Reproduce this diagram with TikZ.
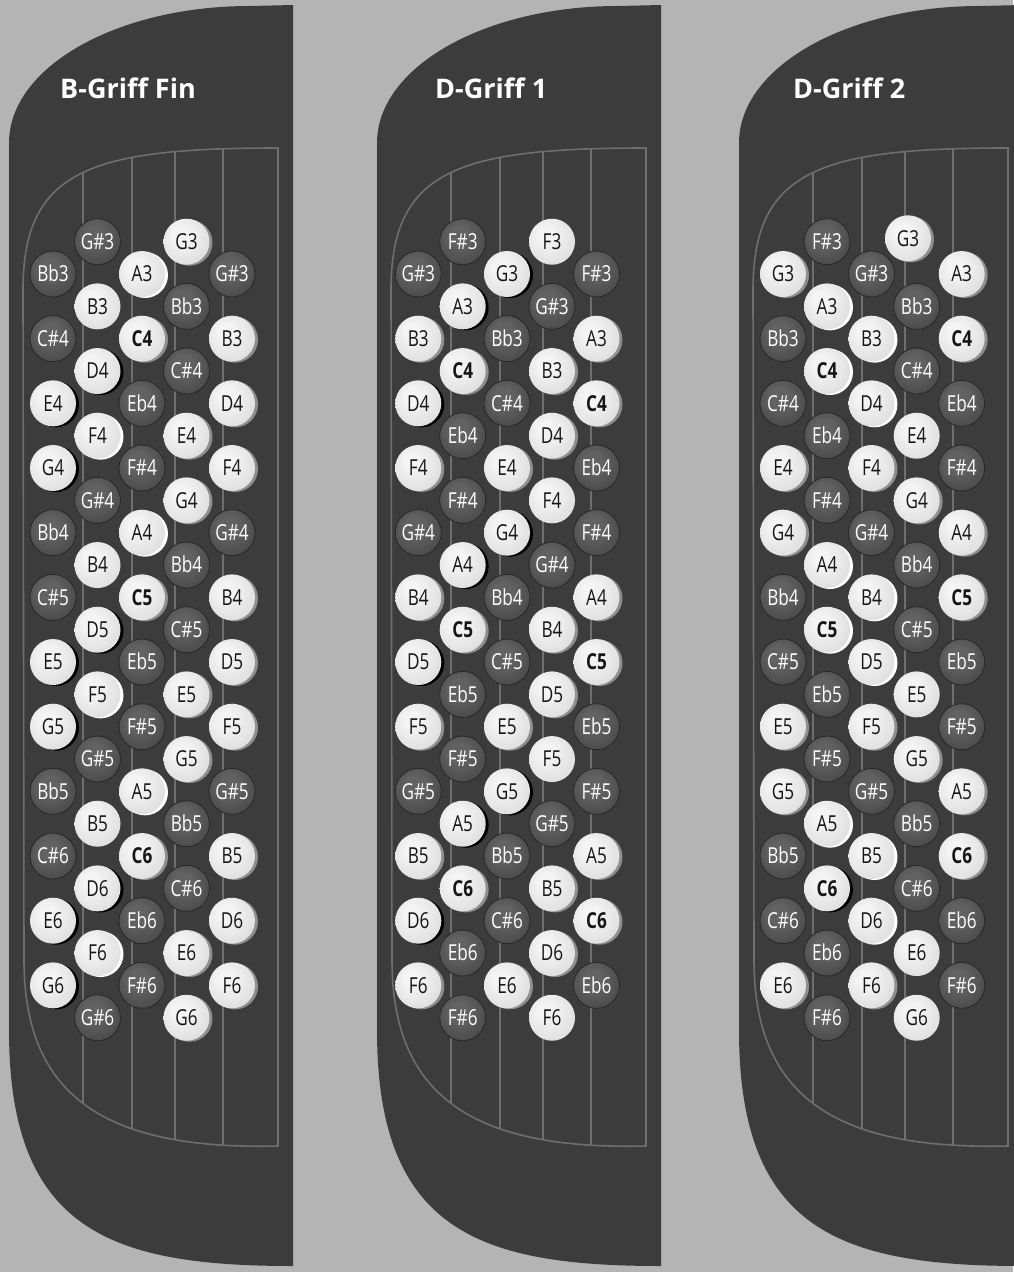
\documentclass[tikz,border=0pt]{standalone}
\usepackage{fontspec}
\usetikzlibrary{shadows}
\newfontfamily\btnfont[FakeStretch=0.78]{Open Sans}
\newfontfamily\ttlfont{Open Sans}
\definecolor{bgc}{HTML}{B4B4B4}
\definecolor{panelc}{HTML}{3C3C3C}
\definecolor{flinec}{HTML}{6E6E6E}
\definecolor{lb1}{HTML}{F4F4F4}
\definecolor{lb2}{HTML}{E0E0E0}
\definecolor{lb3}{HTML}{BEBEBE}
\definecolor{lb4}{HTML}{A6A6A6}
\definecolor{db1}{HTML}{626262}
\definecolor{db2}{HTML}{464646}
\definecolor{db3}{HTML}{2E3030}
\definecolor{db4}{HTML}{262828}
\definecolor{rimgray}{HTML}{8E8E8E}
\definecolor{labdark}{HTML}{161616}
\pgfdeclareradialshading{lightbtn}{\pgfpoint{-8bp}{9bp}}{color(0bp)=(lb1); color(8bp)=(lb1); color(30bp)=(lb2); color(50bp)=(lb3); color(62bp)=(lb4)}
\pgfdeclareradialshading{darkbtn}{\pgfpoint{-5bp}{8bp}}{color(0bp)=(db1); color(10bp)=(db1); color(34bp)=(db2); color(50bp)=(db3); color(60bp)=(db4)}
\tikzset{
  btn/.style={circle, minimum size=46pt, inner sep=0pt, text height=15.5pt, text depth=0pt,
    font=\btnfont\fontsize{22}{22}\selectfont},
  dk/.style={btn, shade, shading=darkbtn, draw=db4, line width=0.8pt, text=white},
  ln/.style={btn, shade, shading=lightbtn, text=labdark},
  lg/.style={ln, general shadow={shadow xshift=3pt, shadow yshift=-1pt, fill=rimgray}},
  lw/.style={ln, general shadow={shadow xshift=3pt, shadow yshift=-1pt, fill=white}},
  lk/.style={ln, general shadow={shadow xshift=3pt, shadow yshift=-1pt, fill=black}},
  lgb/.style={lg, font=\btnfont\bfseries\fontsize{22}{22}\selectfont},
  lwb/.style={lw, font=\btnfont\bfseries\fontsize{22}{22}\selectfont},
  lkb/.style={lk, font=\btnfont\bfseries\fontsize{22}{22}\selectfont},
  ttl/.style={anchor=base west, inner sep=0pt, text=white, font=\ttlfont\bfseries\fontsize{27}{27}\selectfont},
  fline/.style={draw=flinec, line width=1.6pt},
}
\newcommand{\drawpanel}[1]{%
  \begin{scope}[xshift=#1]
    \fill[panelc] (293,5) -- (250,6) .. controls (117,6) and (9,67) .. (9,143)
      -- (9,1030) .. controls (9,1230) and (110,1266) .. (293,1266) -- cycle;
    \begin{scope}
      \clip (23,290) .. controls (23,170) and (90,148) .. (278,148) -- (278,1146)
        .. controls (110,1150) and (24,1100) .. (24,960) -- cycle;
      \foreach \lx in {83,132,175,223} \draw[fline] (\lx,100) -- (\lx,1200);
    \end{scope}
    \draw[fline] (23,290) .. controls (23,170) and (90,148) .. (278,148) -- (278,1146)
      .. controls (110,1150) and (24,1100) .. (24,960) -- cycle;
  \end{scope}}
\begin{document}
\begin{tikzpicture}[x=1pt, y=-1pt]
\useasboundingbox (0,0) rectangle (1013,1272);
\fill[bgc] (0,0) rectangle (1013,1272);
\drawpanel{0pt}
\drawpanel{368pt}
\drawpanel{730pt}

\node[ttl] (t1) at (60,98) {B-Griff Fin};
\node[ttl] (t2) at (435,98) {D-Griff 1};
\node[ttl] (t3) at (793,98) {D-Griff 2};

% ---------- Panel 1: B-Griff Fin
\foreach \lab/\sty [count=\i from 0] in {Bb3/dk, C\#4/dk, E4/lk, G4/lk, Bb4/dk, C\#5/dk, E5/lk, G5/lk, Bb5/dk, C\#6/dk, E6/lk, G6/lk}
  \node[\sty] (pa-a\i) at (53, 274+64.67*\i) {\lab};
\foreach \lab/\sty [count=\i from 0] in {G\#3/dk, B3/ln, D4/lk, F4/lw, G\#4/dk, B4/ln, D5/lk, F5/lw, G\#5/dk, B5/ln, D6/lk, F6/lw, G\#6/dk}
  \node[\sty] (pa-b\i) at (97.5, 241.7+64.67*\i) {\lab};
\foreach \lab/\sty [count=\i from 0] in {A3/lw, C4/lgb, Eb4/dk, F\#4/dk, A4/lw, C5/lgb, Eb5/dk, F\#5/dk, A5/lw, C6/lgb, Eb6/dk, F\#6/dk}
  \node[\sty] (pa-c\i) at (142, 274+64.67*\i) {\lab};
\foreach \lab/\sty [count=\i from 0] in {G3/lg, Bb3/dk, C\#4/dk, E4/lg, G4/lg, Bb4/dk, C\#5/dk, E5/lg, G5/lg, Bb5/dk, C\#6/dk, E6/lg, G6/lg}
  \node[\sty] (pa-d\i) at (186.5, 241.7+64.67*\i) {\lab};
\foreach \lab/\sty [count=\i from 0] in {G\#3/dk, B3/lg, D4/lg, F4/lg, G\#4/dk, B4/lg, D5/lg, F5/lg, G\#5/dk, B5/lg, D6/lg, F6/lg}
  \node[\sty] (pa-e\i) at (232, 274+64.67*\i) {\lab};

% ---------- Panel 2: D-Griff 1
\foreach \lab/\sty [count=\i from 0] in {G\#3/dk, B3/lg, D4/lk, F4/lg, G\#4/dk, B4/lg, D5/lk, F5/lg, G\#5/dk, B5/lg, D6/lk, F6/lg}
  \node[\sty] (pb-a\i) at (418.3, 274+64.67*\i) {\lab};
\foreach \lab/\sty [count=\i from 0] in {F\#3/dk, A3/lk, C4/lgb, Eb4/dk, F\#4/dk, A4/lk, C5/lgb, Eb5/dk, F\#5/dk, A5/lk, C6/lgb, Eb6/dk, F\#6/dk}
  \node[\sty] (pb-b\i) at (462.7, 241.7+64.67*\i) {\lab};
\foreach \lab/\sty [count=\i from 0] in {G3/lk, Bb3/dk, C\#4/dk, E4/lg, G4/lk, Bb4/dk, C\#5/dk, E5/lg, G5/lk, Bb5/dk, C\#6/dk, E6/lg}
  \node[\sty] (pb-c\i) at (507, 274+64.67*\i) {\lab};
\foreach \lab/\sty [count=\i from 0] in {F3/ln, G\#3/dk, B3/lg, D4/lg, F4/ln, G\#4/dk, B4/lg, D5/lg, F5/ln, G\#5/dk, B5/lg, D6/lg, F6/ln}
  \node[\sty] (pb-d\i) at (552, 241.7+64.67*\i) {\lab};
\foreach \lab/\sty [count=\i from 0] in {F\#3/dk, A3/lg, C4/lgb, Eb4/dk, F\#4/dk, A4/lg, C5/lgb, Eb5/dk, F\#5/dk, A5/lg, C6/lgb, Eb6/dk}
  \node[\sty] (pb-e\i) at (596.5, 274+64.67*\i) {\lab};

% ---------- Panel 3: D-Griff 2
\foreach \lab/\sty [count=\i from 0] in {G3/lg, Bb3/dk, C\#4/dk, E4/lg, G4/lg, Bb4/dk, C\#5/dk, E5/lg, G5/lg, Bb5/dk, C\#6/dk, E6/lg}
  \node[\sty] (pc-a\i) at (783, 274+64.67*\i) {\lab};
\foreach \lab/\sty [count=\i from 0] in {F\#3/dk, A3/lw, C4/lwb, Eb4/dk, F\#4/dk, A4/lw, C5/lwb, Eb5/dk, F\#5/dk, A5/lw, C6/lkb, Eb6/dk, F\#6/dk}
  \node[\sty] (pc-b\i) at (827, 241.7+64.67*\i) {\lab};
\foreach \lab/\sty [count=\i from 0] in {G\#3/dk, B3/lw, D4/lw, F4/lg, G\#4/dk, B4/lw, D5/lw, F5/lg, G\#5/dk, B5/lw, D6/lw, F6/lg}
  \node[\sty] (pc-c\i) at (871.5, 274+64.67*\i) {\lab};
\node[lg] (pc-d0) at (908, 238.3) {G3};
\foreach \lab/\sty [count=\i from 1] in {Bb3/dk, C\#4/dk, E4/ln, G4/lg, Bb4/dk, C\#5/dk, E5/ln, G5/lg, Bb5/dk, C\#6/dk, E6/ln, G6/ln}
  \node[\sty] (pc-d\i) at (916.7, 241.7+64.67*\i) {\lab};
\foreach \lab/\sty [count=\i from 0] in {A3/lg, C4/lgb, Eb4/dk, F\#4/dk, A4/lg, C5/lgb, Eb5/dk, F\#5/dk, A5/lg, C6/lgb, Eb6/dk, F\#6/dk}
  \node[\sty] (pc-e\i) at (961.7, 274+64.67*\i) {\lab};
\end{tikzpicture}
\end{document}
